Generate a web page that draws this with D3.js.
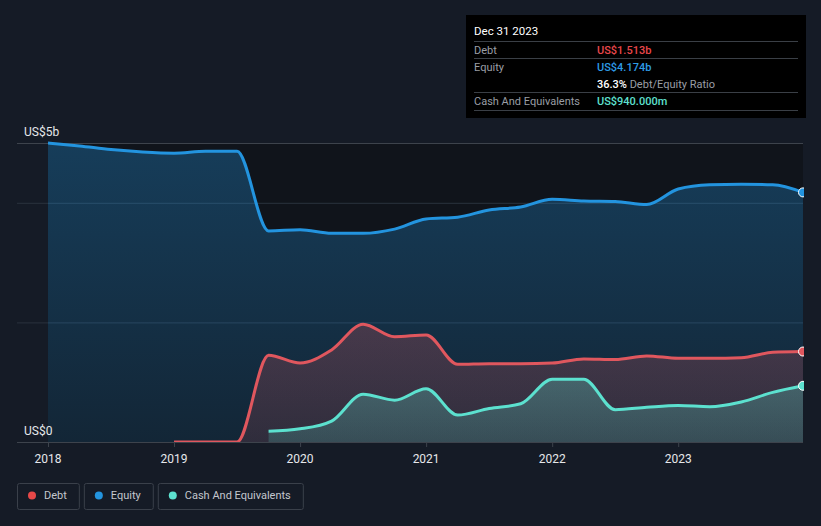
<!DOCTYPE html>
<html>
<head>
<meta charset="utf-8">
<script src="https://cdn.jsdelivr.net/npm/d3@7"></script>
<style>
  body { margin: 0; background: #151b26; }
  svg { display: block; font-family: Roboto, "Open Sans", sans-serif; }
</style>
</head>
<body>
<div id="chart"></div>
<script>
// quarters as decimal years
var equityDates = [2018.0, 2018.25, 2018.5, 2018.75, 2019.0, 2019.25, 2019.5, 2019.75, 2020.0, 2020.25, 2020.5, 2020.75,
  2021.0, 2021.25, 2021.5, 2021.75, 2022.0, 2022.25, 2022.5, 2022.75, 2023.0, 2023.25, 2023.5, 2023.75, 2023.99];
var equityValues = [5.0, 4.95, 4.89, 4.85, 4.83, 4.86, 4.86, 3.53, 3.55, 3.49, 3.49, 3.56,
  3.73, 3.76, 3.88, 3.93, 4.06, 4.03, 4.02, 3.97, 4.23, 4.30, 4.31, 4.30, 4.174];

var debtDates = [2019.0, 2019.25, 2019.5, 2019.75, 2020.0, 2020.25, 2020.5, 2020.75, 2021.0, 2021.25, 2021.5, 2021.75,
  2022.0, 2022.25, 2022.5, 2022.75, 2023.0, 2023.25, 2023.5, 2023.75, 2023.99];
var debtValues = [0.0, 0.0, 0.0, 1.45, 1.32, 1.54, 1.97, 1.76, 1.79, 1.30, 1.31, 1.31,
  1.32, 1.39, 1.38, 1.44, 1.40, 1.40, 1.41, 1.50, 1.513];

var cashDates = [2019.75, 2020.0, 2020.25, 2020.5, 2020.75, 2021.0, 2021.25, 2021.5, 2021.75,
  2022.0, 2022.25, 2022.5, 2022.75, 2023.0, 2023.25, 2023.5, 2023.75, 2023.99];
var cashValues = [0.18, 0.22, 0.35, 0.80, 0.70, 0.89, 0.45, 0.56, 0.64,
  1.05, 1.05, 0.54, 0.58, 0.61, 0.59, 0.67, 0.83, 0.94];

var xTicks = [2018, 2019, 2020, 2021, 2022, 2023];
var gridTicks = [2, 4, 5];
var yTickLabels = {0: "US$0", 5: "US$5b"};

var tipTitle = "Dec 31 2023";
var tipRows = [
  {label: "Debt", value: "US$1.513b", color: "#e8474b"},
  {label: "Equity", value: "US$4.174b", color: "#2e9be6"},
  {label: "", value: "36.3%", extra: " Debt/Equity Ratio", color: "#ffffff"},
  {label: "Cash And Equivalents", value: "US$940.000m", color: "#5fe0d0"}
];

var legendItems = [
  {name: "Debt", color: "#e64848"},
  {name: "Equity", color: "#2394df"},
  {name: "Cash And Equivalents", color: "#5ce1cf"}
];

var W = 821, H = 526;
var margin = {top: 143, right: 18, bottom: 84, left: 48};
var width = W - margin.left - margin.right,
    height = H - margin.top - margin.bottom;

var svg = d3.select("#chart").append("svg")
  .attr("width", W)
  .attr("height", H);

var defs = svg.append("defs");
defs.append("clipPath").attr("id", "plotclip")
  .append("rect").attr("x", 0).attr("y", -10).attr("width", width + 1).attr("height", height + 10);

function grad(id, color, top, bottom) {
  var g = defs.append("linearGradient").attr("id", id)
    .attr("x1", 0).attr("y1", 0).attr("x2", 0).attr("y2", 1);
  g.append("stop").attr("offset", "0%").attr("stop-color", color).attr("stop-opacity", top);
  g.append("stop").attr("offset", "100%").attr("stop-color", color).attr("stop-opacity", bottom);
}
grad("gEquity", "#2394df", 0.32, 0.14);
grad("gDebt", "#e0575e", 0.25, 0.14);
grad("gCash", "#5ce1cf", 0.28, 0.18);

var x = d3.scaleLinear().domain([2018, 2023.99]).range([0, width]);
var y = d3.scaleLinear().domain([0, 5]).range([height, 0]);

var g = svg.append("g")
  .attr("transform", "translate(" + margin.left + "," + margin.top + ")");

// dark plot background
g.append("rect")
  .attr("x", 0).attr("y", 0)
  .attr("width", width).attr("height", height)
  .attr("fill", "#10141b");

// grid lines
g.selectAll(".grid")
  .data(gridTicks)
  .enter().append("line")
  .attr("x1", -31).attr("x2", width)
  .attr("y1", function(d) { return y(d) + 0.5; })
  .attr("y2", function(d) { return y(d) + 0.5; })
  .attr("stroke", function(d) { return d == 5 ? "#3d434c" : "#2a323e"; })
  .attr("stroke-width", 1);

var plot = g.append("g").attr("clip-path", "url(#plotclip)");

function zip(dates, vals) {
  return dates.map(function(d, i) { return {t: d, v: vals[i]}; });
}
var series = [
  {data: zip(equityDates, equityValues), color: "#2394df", fill: "url(#gEquity)"},
  {data: zip(debtDates, debtValues), color: "#e0575e", fill: "url(#gDebt)"},
  {data: zip(cashDates, cashValues), color: "#5ce1cf", fill: "url(#gCash)"}
];

var area = d3.area().curve(d3.curveMonotoneX)
  .x(function(d) { return x(d.t); })
  .y0(y(0))
  .y1(function(d) { return y(d.v); });
var line = d3.line().curve(d3.curveMonotoneX)
  .x(function(d) { return x(d.t); })
  .y(function(d) { return y(d.v); });

series.forEach(function(s) {
  plot.append("path").datum(s.data).attr("d", area).attr("fill", s.fill);
});
series.forEach(function(s) {
  plot.append("path").datum(s.data).attr("d", line)
    .attr("fill", "none").attr("stroke", s.color).attr("stroke-width", 3);
});
series.forEach(function(s) {
  var last = s.data[s.data.length - 1];
  plot.append("circle")
    .attr("cx", x(last.t)).attr("cy", y(last.v)).attr("r", 4.5)
    .attr("fill", s.color).attr("stroke", "#ffffff").attr("stroke-width", 1);
});

// x axis
g.append("line")
  .attr("x1", -31).attr("x2", width)
  .attr("y1", height + 0.5).attr("y2", height + 0.5)
  .attr("stroke", "#3d434c");
g.selectAll(".xtick")
  .data(xTicks).enter().append("line")
  .attr("x1", function(d) { return x(d) + 0.5; })
  .attr("x2", function(d) { return x(d) + 0.5; })
  .attr("y1", height).attr("y2", height + 5)
  .attr("stroke", "#3d434c");
g.selectAll(".xlabel")
  .data(xTicks).enter().append("text")
  .attr("x", function(d) { return x(d); })
  .attr("y", height + 21)
  .attr("text-anchor", "middle")
  .attr("fill", "#e6e8eb")
  .attr("font-size", 12)
  .text(function(d) { return d; });

// y labels
g.selectAll(".ylabel")
  .data([0, 5]).enter().append("text")
  .attr("x", -24)
  .attr("y", function(d) { return y(d) - 7; })
  .attr("fill", "#e6e8eb")
  .attr("font-size", 12)
  .text(function(d) { return yTickLabels[d]; });

// tooltip box
var tip = svg.append("g").attr("transform", "translate(466,15)");
tip.append("rect").attr("width", 340).attr("height", 103).attr("fill", "#000000");
tip.append("text").attr("x", 8).attr("y", 20).attr("fill", "#ffffff")
  .attr("font-size", 11.5).text(tipTitle);
var sepY = [26.5, 43.5, 77.5, 95.5];
tip.selectAll(".sep").data(sepY).enter().append("line")
  .attr("x1", 8).attr("x2", 332)
  .attr("y1", function(d) { return d; }).attr("y2", function(d) { return d; })
  .attr("stroke", "#3a3f46");
tipRows.forEach(function(r, i) {
  var ry = 39 + i * 17;
  tip.append("text").attr("x", 8).attr("y", ry).attr("fill", "#9a9ea5")
    .attr("font-size", 11).text(r.label);
  var t = tip.append("text").attr("x", 131).attr("y", ry).attr("font-size", 11);
  t.append("tspan").attr("fill", r.color).attr("font-weight", 500).text(r.value);
  if (r.extra) t.append("tspan").attr("fill", "#9a9ea5").text(r.extra);
});

// legend
var lx = 17;
legendItems.forEach(function(it) {
  var lg = svg.append("g").attr("transform", "translate(" + lx + ",483)");
  var txt = lg.append("text").attr("x", 27).attr("y", 16).attr("fill", "#c3c7cd")
    .attr("font-size", 11).text(it.name);
  var w = txt.node().getComputedTextLength() + 39;
  lg.insert("rect", "text").attr("x", 0.5).attr("y", 0.5).attr("width", w).attr("height", 26)
    .attr("rx", 2).attr("fill", "none").attr("stroke", "#3a404a");
  lg.append("circle").attr("cx", 15).attr("cy", 12.5).attr("r", 4).attr("fill", it.color);
  lx += w + 5;
});
</script>
</body>
</html>
